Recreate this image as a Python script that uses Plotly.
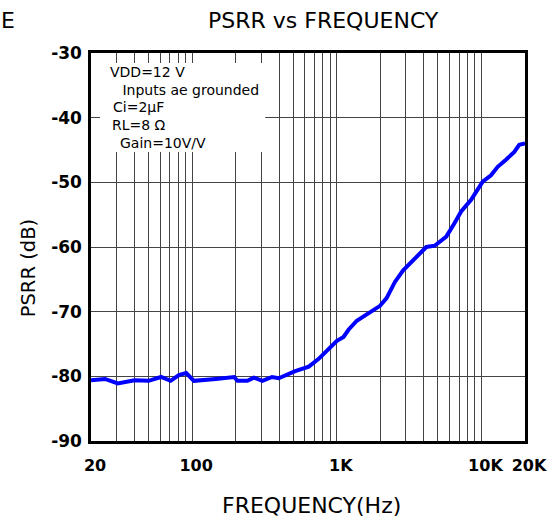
import plotly.graph_objects as go

# ---- data ----
freq_hz = [20, 25, 30.6, 40, 50, 61, 71, 81, 91, 103, 146, 195, 206, 241, 267, 306,
           357, 397, 516, 640, 750, 879, 1002, 1114, 1205, 1375, 1654, 1990, 2209,
           2523, 2877, 3371, 3845, 4160, 4752, 5714, 6520, 7240, 8480, 10200, 11640,
           12950, 14770, 16870, 18250, 20000]
psrr_db = [-80.6, -80.4, -81.1, -80.6, -80.7, -80.1, -80.7, -79.8, -79.5, -80.7,
           -80.4, -80.1, -80.7, -80.7, -80.2, -80.7, -80.1, -80.3, -79.2, -78.5,
           -77.3, -75.8, -74.5, -73.9, -72.8, -71.4, -70.3, -69.1, -67.9, -65.4,
           -63.6, -62.0, -60.7, -60.0, -59.8, -58.4, -56.3, -54.5, -52.7, -49.9,
           -48.9, -47.6, -46.5, -45.3, -44.2, -44.0]

x_grid = [20, 30, 40, 50, 60, 70, 80, 90, 100, 200, 300, 400, 500, 600, 700, 800, 900,
          1000, 2000, 3000, 4000, 5000, 6000, 7000, 8000, 9000, 10000, 20000]
x_labeled = {20: "20", 100: "100", 1000: "1K", 10000: "10K", 20000: "20K"}
y_ticks = [-90, -80, -70, -60, -50, -40, -30]
y_labels = ["-90", "-80", "-70", "-60", "-50", "-40", "-30"]

notes = ["VDD=12 V", " Inputs ae grounded", "Ci=2µF", "RL=8 Ω", "Gain=10V/V"]

# ---- layout geometry (pixels) ----
W, H = 559, 520
L, R, T, B = 91, 32, 53, 79
PW, PH = W - L - R, H - T - B


def px(x):
    return (x - L) / PW


def py(y):
    return (H - B - y) / PH


fig = go.Figure()
fig.add_trace(go.Scatter(x=freq_hz, y=psrr_db, mode="lines",
                         line=dict(color="#0000ff", width=4), showlegend=False,
                         hoverinfo="skip"))

fig.update_layout(
    width=W, height=H,
    margin=dict(l=L, r=R, t=T, b=B),
    paper_bgcolor="white", plot_bgcolor="white",
    xaxis=dict(type="log", range=[1.30103, 4.30103],
               tickvals=x_grid,
               ticktext=[x_labeled.get(v, "") for v in x_grid],
               showgrid=True, gridcolor="#444", gridwidth=1,
               showline=True, linecolor="black", linewidth=2.5, mirror=True,
               ticks="", ticklabelstandoff=8, ticklabelshift=4,
               tickfont=dict(family="DejaVu Sans", size=16, color="black", weight="bold"),
               zeroline=False),
    yaxis=dict(range=[-90, -30], tickvals=y_ticks, ticktext=y_labels,
               showgrid=True, gridcolor="#444", gridwidth=1,
               showline=True, linecolor="black", linewidth=2.5, mirror=True,
               ticks="", ticklabelstandoff=3,
               tickfont=dict(family="DejaVu Sans", size=17, color="black", weight="bold"),
               zeroline=False),
)

# white note box covering the grid
fig.add_shape(type="rect", xref="paper", yref="paper",
              x0=px(100), x1=px(266), y0=py(152), y1=py(63),
              fillcolor="white", line=dict(width=0), layer="above")

note_pos = [(108, 72), (116, 89.5), (111, 107), (110, 125), (118, 143)]
for txt, (nx, ny) in zip(notes, note_pos):
    fig.add_annotation(text=txt, xref="paper", yref="paper", x=px(nx), y=py(ny),
                       xanchor="left", yanchor="middle", showarrow=False,
                       font=dict(family="DejaVu Sans", size=14, color="black"))

title_font = dict(family="DejaVu Sans", size=22, color="black")
fig.add_annotation(text="PSRR vs FREQUENCY", xref="paper", yref="paper",
                   x=px(325), y=py(20), xanchor="center", yanchor="middle",
                   showarrow=False, font=title_font)
fig.add_annotation(text="E", xref="paper", yref="paper",
                   x=px(17), y=py(20), xanchor="right", yanchor="middle",
                   showarrow=False, font=title_font)
fig.add_annotation(text="FREQUENCY(Hz)", xref="paper", yref="paper",
                   x=px(313), y=py(505), xanchor="center", yanchor="middle",
                   showarrow=False, font=title_font)
fig.add_annotation(text="PSRR (dB)", xref="paper", yref="paper",
                   x=px(28), y=py(268), xanchor="center", yanchor="middle",
                   textangle=-90, showarrow=False,
                   font=dict(family="DejaVu Sans", size=19.5, color="black"))

fig.write_html("out.html")
